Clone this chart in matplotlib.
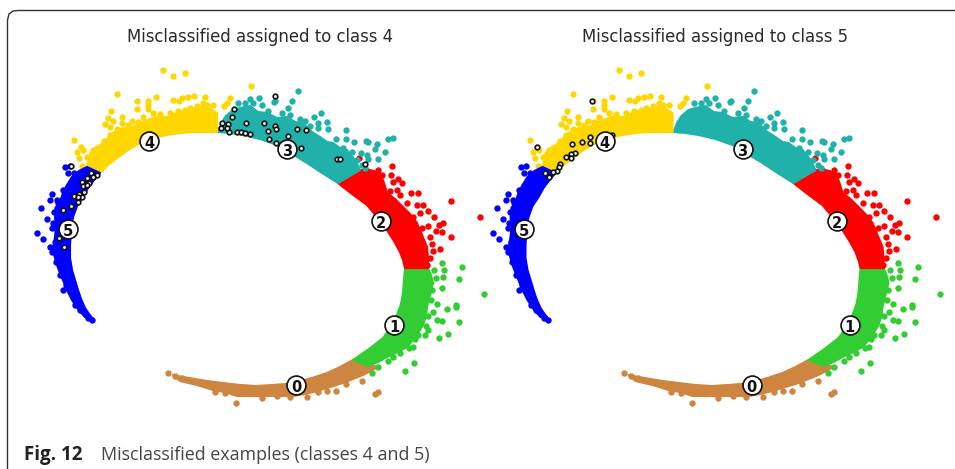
"""Two copies of the class ring, each marking the misclassified examples."""

import matplotlib

matplotlib.use("Agg")
import matplotlib.pyplot as plt
from matplotlib.patches import Polygon

plt.rcParams["font.family"] = ["DejaVu Sans"]

CLASS_COLORS = ["peru", "limegreen", "red", "lightseagreen", "gold", "blue"]

# edge of the dense part of each class
BAND_0 = [(353, 360), (340, 367), (327, 373), (312, 378), (297, 382), (285, 384), (273, 385), (256, 386), (240, 385),
          (223, 383), (207, 381), (195, 379), (183, 377), (173, 375), (180, 381), (197, 385), (213, 390), (225, 392),
          (237, 396), (250, 396), (260, 396), (277, 396), (293, 396), (305, 394), (317, 391), (330, 387), (343, 383),
          (353, 379), (363, 375), (378, 367), (368, 364)]
BAND_1 = [(405, 268), (404, 280), (403, 293), (401, 304), (397, 315), (391, 327), (383, 338), (369, 349), (353, 360),
          (368, 366), (378, 362), (387, 357), (398, 352), (407, 347), (416, 337), (423, 325), (426, 316), (427, 307),
          (430, 295), (433, 283), (431, 275), (428, 268)]
BAND_2 = [(338, 183), (352, 194), (367, 205), (377, 217), (387, 230), (394, 241), (400, 252), (403, 260), (405, 268),
          (428, 268), (428, 258), (427, 247), (422, 235), (417, 223), (410, 214), (403, 207), (395, 199), (387, 193),
          (384, 183), (380, 173), (370, 170), (360, 170)]
BAND_3 = [(218, 132), (230, 133), (243, 135), (260, 139), (277, 145), (292, 154), (307, 163), (322, 173), (338, 183),
          (360, 170), (355, 160), (347, 150), (340, 148), (333, 143), (327, 142), (320, 137), (312, 132), (303, 123),
          (295, 122), (287, 117), (277, 118), (267, 113), (258, 112), (250, 106), (240, 108), (233, 110), (226, 116),
          (222, 122)]
BAND_4 = [(100, 173), (108, 165), (117, 158), (128, 150), (140, 143), (153, 138), (167, 135), (180, 133), (193, 132),
          (207, 132), (217, 132), (217, 113), (207, 107), (197, 107), (187, 110), (177, 113), (167, 117), (155, 117),
          (143, 122), (133, 127), (123, 128), (113, 133), (103, 143), (97, 147), (90, 153), (87, 167)]
BAND_5 = [(93, 319), (89, 314), (85, 308), (81, 299), (78, 290), (75, 280), (72, 270), (70, 258), (70, 245), (71, 230),
          (73, 217), (77, 206), (83, 197), (88, 188), (94, 180), (100, 173), (87, 167), (79, 171), (72, 177), (67, 185),
          (63, 193), (59, 205), (55, 217), (56, 227), (55, 237), (53, 250), (55, 258), (57, 265), (60, 273), (63, 280),
          (67, 290), (72, 300), (78, 309), (85, 317)]
BANDS = [BAND_0, BAND_1, BAND_2, BAND_3, BAND_4, BAND_5]

# points lying off the dense part, or bumping out of its edge
STRAY_0 = [(168, 373), (175, 376), (182, 378), (236, 403), (307, 397), (327, 391), (336, 391), (362, 381),
           (378, 392), (375, 394), (346, 384), (262, 398), (277, 396), (215, 392), (318, 392), (225, 393), (290, 397)]
STRAY_1 = [(484, 294), (462, 267), (459, 279), (442, 263), (444, 270), (443, 277), (442, 288), (437, 304),
           (433, 312), (447, 309), (456, 305), (456, 307), (437, 320), (442, 321), (459, 322), (448, 334),
           (439, 338), (428, 330), (425, 335), (415, 339), (413, 347), (409, 348), (414, 363), (405, 371),
           (393, 357), (388, 361), (372, 373), (378, 367), (434, 270), (436, 278), (432, 290), (431, 300), (428, 316),
           (426, 326), (418, 335), (400, 353)]
STRAY_2 = [(359, 158), (392, 166), (391, 175), (398, 179), (393, 182), (402, 183), (411, 193), (418, 193),
           (451, 201), (480, 217), (400, 195), (417, 205), (423, 205), (428, 211), (420, 213), (434, 217),
           (443, 223), (439, 225), (436, 231), (442, 232), (451, 237), (430, 237), (440, 249), (433, 251),
           (427, 265), (373, 173), (382, 175), (343, 177), (352, 169), (390, 191), (413, 217), (422, 228), (428, 226),
           (432, 244), (430, 258), (407, 203), (397, 190), (366, 170), (378, 170)]
STRAY_3 = [(298, 91), (292, 101), (288, 108), (290, 115), (259, 98), (250, 99), (275, 101), (321, 113),
           (314, 117), (305, 121), (318, 123), (327, 122), (328, 129), (318, 128), (346, 130), (346, 139),
           (354, 142), (366, 141), (368, 142), (388, 139), (393, 138), (377, 144), (375, 149), (385, 152),
           (361, 153), (367, 155), (368, 159), (378, 159), (365, 168), (357, 160), (343, 148), (238, 103),
           (245, 103), (253, 103), (262, 105), (274, 102), (282, 113), (268, 111), (300, 119), (310, 126), (336, 139),
           (352, 152), (362, 165)]
STRAY_4 = [(163, 70), (173, 76), (185, 73), (117, 94), (156, 97), (137, 101), (148, 101), (148, 105),
           (137, 109), (148, 109), (173, 100), (179, 101), (182, 98), (188, 97), (194, 96), (205, 97),
           (230, 98), (227, 103), (224, 106), (251, 86), (111, 111), (122, 117), (108, 118), (113, 121),
           (122, 123), (132, 121), (105, 124), (110, 127), (74, 140), (104, 141), (110, 135), (81, 147),
           (77, 152), (83, 150), (79, 158), (82, 166), (87, 157), (97, 148), (143, 117), (153, 113),
           (178, 111), (203, 103), (213, 105), (185, 110), (207, 105), (197, 106), (190, 108), (170, 113), (160, 114),
           (138, 122), (128, 125), (117, 129), (93, 150)]
STRAY_5 = [(65, 167), (70, 166), (68, 173), (52, 194), (50, 200), (57, 200), (41, 208), (57, 208), (47, 219),
           (53, 223), (52, 228), (37, 233), (43, 239), (50, 247), (55, 242), (52, 252), (56, 262), (60, 275),
           (63, 290), (66, 285), (75, 305), (80, 310), (88, 318), (92, 320), (74, 173), (63, 190), (58, 203), (54, 212)]
STRAYS = [STRAY_0, STRAY_1, STRAY_2, STRAY_3, STRAY_4, STRAY_5]

WRONG_AS_4 = [(71, 166), (97, 175), (91, 173), (93, 177), (87, 178), (89, 183), (82, 182), (83, 186), (87, 185),
              (84, 192), (79, 194), (74, 196), (82, 197), (78, 197), (78, 202), (71, 206), (63, 210), (59, 238),
              (64, 247), (234, 109), (232, 117), (222, 123), (221, 128), (228, 124), (229, 132), (227, 128),
              (237, 132), (241, 132), (245, 133), (250, 134), (246, 123), (275, 96), (264, 123), (275, 126),
              (276, 129), (268, 131), (297, 129), (306, 130), (288, 136), (269, 139), (276, 143), (301, 148),
              (337, 159), (340, 159), (365, 164)]
WRONG_AS_5 = [(136.5, 101), (81, 147), (134.5, 137), (134.5, 143), (126.5, 142), (116.5, 144), (156.5, 135),
              (119.5, 153), (115.5, 154), (115.5, 158), (110.5, 157), (104.5, 164), (103.5, 167), (101.5, 171),
              (97.5, 172), (93.5, 177), (89.5, 173)]

LABEL_X = [296, 394, 381, 287, 149, 68]
LABEL_Y = [385, 325, 221, 149, 141, 229]

TITLES = ["Misclassified assigned to class 4", "Misclassified assigned to class 5"]


def draw_panel(axis, misclassified, title):
    for band, strays, color in zip(BANDS, STRAYS, CLASS_COLORS, strict=True):
        axis.add_patch(Polygon(band, closed=True, facecolor=color, edgecolor=color, linewidth=1.5,
                               joinstyle="round", zorder=2))
        axis.scatter(*zip(*strays), s=21, color=color, linewidths=0, zorder=2)

    axis.scatter(*zip(*misclassified), s=11, facecolor="#f2f2f2", edgecolor="#111111", linewidths=1.2, zorder=3)

    for number, (x, y) in enumerate(zip(LABEL_X, LABEL_Y, strict=True)):
        axis.scatter(x, y, s=185, facecolor="white", edgecolor="#111111", linewidths=1.2, zorder=4)
        axis.text(x, y + 0.5, str(number), ha="center", va="center_baseline", fontsize=10.5, fontweight="bold",
                  color="#111111", zorder=5)

    axis.text(260, 37, title, ha="center", va="center", fontsize=11.9, color="#2a2a2a")


figure = plt.figure(figsize=(9.55, 4.69), dpi=100)

# the right panel shows the same points, moved 455.5 pixels over
left_axis = figure.add_axes([0, 0, 487 / 955, 1])
left_axis.set_xlim(0, 487)
right_axis = figure.add_axes([487 / 955, 0, 468 / 955, 1])
right_axis.set_xlim(31.5, 499.5)
for axis in (left_axis, right_axis):
    axis.set_ylim(469, 0)
    axis.axis("off")
    axis.patch.set_alpha(0)

draw_panel(left_axis, WRONG_AS_4, TITLES[0])
draw_panel(right_axis, WRONG_AS_5, TITLES[1])

# page frame around the figure, open at the right and bottom
figure.add_artist(plt.Line2D(
    [7.5 / 955, 7.5 / 955, 9 / 955, 13 / 955, 18 / 955, 955 / 955],
    [0, 1 - 20 / 469, 1 - 14 / 469, 1 - 11 / 469, 1 - 10.5 / 469, 1 - 10.5 / 469],
    color="#333333", linewidth=1.0,
))

figure.text(24 / 955, 1 - 455 / 469, "Fig. 12", family="Open Sans", fontweight="bold", fontsize=13.5,
            color="#222222", va="center")
figure.text(101 / 955, 1 - 455 / 469, "Misclassified examples (classes 4 and 5)", family="Open Sans",
            fontsize=12.9, color="#444444", va="center")

figure.savefig("out.png", dpi=100)
